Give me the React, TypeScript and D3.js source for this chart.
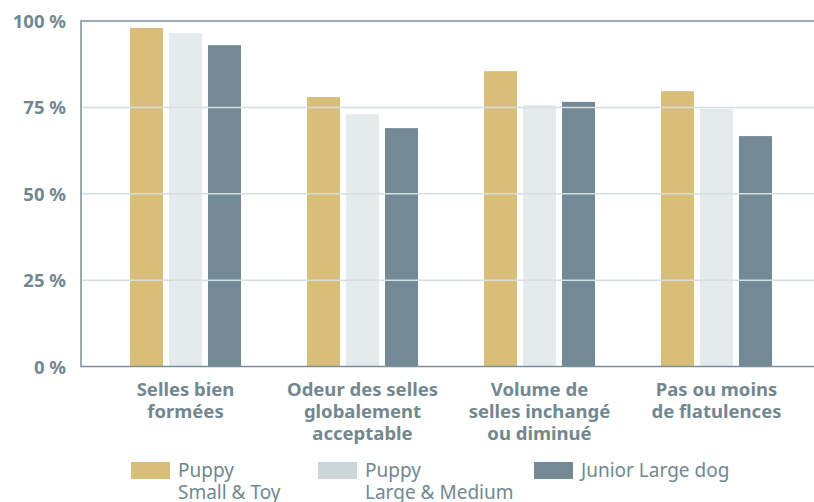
import React, { useEffect, useRef } from 'react';
import * as d3 from 'd3';

const categories = [
  ['Selles bien', 'formées'],
  ['Odeur des selles', 'globalement', 'acceptable'],
  ['Volume de', 'selles inchangé', 'ou diminué'],
  ['Pas ou moins', 'de flatulences'],
];
const seriesNames = [
  ['Puppy', 'Small & Toy'],
  ['Puppy', 'Large & Medium'],
  ['Junior Large dog'],
];
const smallToy = [98, 78, 85.5, 79.7];
const largeMedium = [96.5, 73, 75.7, 74.6];
const juniorLarge = [93, 69, 76.6, 66.7];
const yTicks = [0, 25, 50, 75, 100];

const barColors = ['#d9be79', '#e5eaed', '#738a96'];
const legendColors = ['#d9be79', '#cbd6da', '#738a96'];
const textColor = '#72878f';

const App = () => {
  const svgRef = useRef(null);

  useEffect(() => {
    const W = 814;
    const H = 502;
    const svg = d3.select(svgRef.current);
    svg.selectAll('*').remove();
    svg.attr('width', W).attr('height', H);

    const left = 81;
    const right = 814;
    const top = 21;
    const bottom = 366.6;

    const series = [smallToy, largeMedium, juniorLarge];
    const groups = categories.map((c, i) => i);

    // groupe
    const x0 = d3.scaleBand().domain(groups).range([97, 805]).padding(0);
    // barres dans un groupe
    const x1 = d3
      .scaleBand()
      .domain([0, 1, 2])
      .range([-55.5, 55.5])
      .paddingInner(0.154)
      .paddingOuter(0);
    const y = d3.scaleLinear().domain([0, 100]).range([bottom, top]);

    // bars
    groups.forEach((g) => {
      const cx = x0(g) + x0.bandwidth() / 2;
      series.forEach((s, si) => {
        svg
          .append('rect')
          .attr('x', cx + x1(si))
          .attr('y', y(s[g]))
          .attr('width', x1.bandwidth())
          .attr('height', bottom - y(s[g]))
          .attr('fill', barColors[si]);
      });
    });

    // gridlines (over the bars)
    svg
      .append('g')
      .selectAll('line')
      .data(yTicks.filter((t) => t > 0 && t < 100))
      .enter()
      .append('line')
      .attr('x1', left)
      .attr('x2', right)
      .attr('y1', (d) => y(d))
      .attr('y2', (d) => y(d))
      .attr('stroke', '#d3dfe0')
      .attr('stroke-width', 1.5);

    // frame
    const frame = svg.append('g').attr('stroke', '#7b8f99').attr('stroke-width', 1.5);
    frame.append('line').attr('x1', left).attr('x2', right).attr('y1', y(100)).attr('y2', y(100));
    frame.append('line').attr('x1', left).attr('x2', right).attr('y1', bottom).attr('y2', bottom);
    frame.append('line').attr('x1', left).attr('x2', left).attr('y1', y(100) - 0.75).attr('y2', bottom + 0.75);

    // y tick labels
    svg
      .append('g')
      .selectAll('text')
      .data(yTicks)
      .enter()
      .append('text')
      .attr('x', 66)
      .attr('y', (d) => y(d) + 7)
      .attr('text-anchor', 'end')
      .attr('font-family', 'Noto Sans')
      .attr('font-weight', 700)
      .attr('font-size', 18.5)
      .attr('fill', textColor)
      .text((d) => `${d} %`);

    // category labels
    groups.forEach((g) => {
      const cx = x0(g) + x0.bandwidth() / 2;
      const t = svg
        .append('text')
        .attr('text-anchor', 'middle')
        .attr('font-family', 'Noto Sans')
        .attr('font-weight', 700)
        .attr('font-size', 18.5)
        .attr('fill', textColor);
      categories[g].forEach((line, li) => {
        t.append('tspan').attr('x', cx).attr('y', 396 + li * 22).text(line);
      });
    });

    // legend
    const legendX = [131, 318, 534];
    seriesNames.forEach((name, i) => {
      svg
        .append('rect')
        .attr('x', legendX[i])
        .attr('y', 462)
        .attr('width', 39)
        .attr('height', 17)
        .attr('fill', legendColors[i]);
      const t = svg
        .append('text')
        .attr('font-family', 'Noto Sans')
        .attr('font-size', 19)
        .attr('fill', textColor);
      name.forEach((line, li) => {
        t.append('tspan').attr('x', legendX[i] + 47).attr('y', 477 + li * 21.5).text(line);
      });
    });
  }, []);

  return (
    <div style={{ position: 'absolute', left: 0, top: 0 }}>
      <svg ref={svgRef} style={{ display: 'block' }}></svg>
    </div>
  );
};

export default App;
